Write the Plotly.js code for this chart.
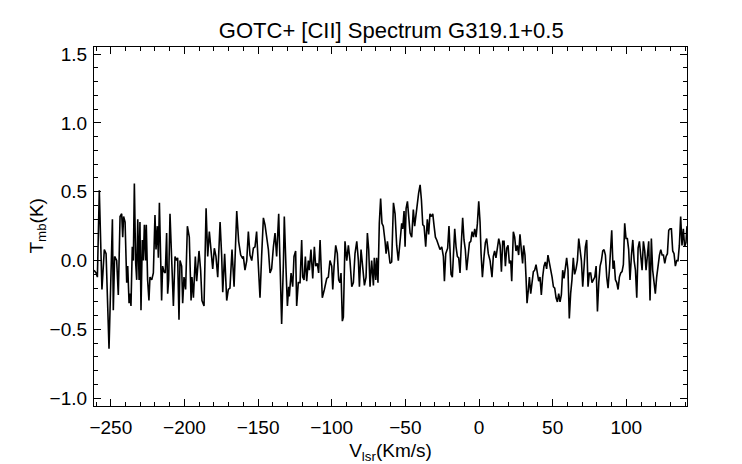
<!DOCTYPE html>
<html>
<head>
<meta charset="utf-8">
<script src="https://cdn.plot.ly/plotly-3.0.1.min.js"></script>
<style>
  html, body { margin: 0; padding: 0; background: #fff; }
  #myDiv { width: 742px; height: 464px; }
</style>
</head>
<body>
<div id="myDiv"></div>
<script>
// velocity channels (km/s)
const vel = [
    -261.4, -260.0, -259.1, -257.8, -256.0, -254.4, -253.2, -251.2, -248.9, -248.3,
    -247.4, -246.0, -244.9, -243.7, -242.6, -241.9, -241.3, -240.3, -239.2, -238.5,
    -237.6, -237.0, -236.3, -235.4, -234.7, -234.0, -233.1, -232.4, -231.7, -230.8,
    -230.2, -229.5, -228.6, -227.9, -227.2, -226.3, -225.9, -225.0, -224.1, -223.4,
    -222.2, -221.1, -220.0, -219.3, -218.4, -217.7, -217.0, -216.3, -215.5, -214.8,
    -213.9, -213.0, -212.1, -211.4, -210.7, -209.8, -208.7, -207.5, -206.4, -205.3,
    -204.6, -203.7, -203.0, -201.9, -201.2, -200.3, -199.2, -198.0, -196.7,
    -195.5, -194.9, -193.9, -192.6, -191.7, -190.1, -189.0, -188.1, -186.7, -185.3,
    -184.2, -183.1, -182.0, -180.8, -179.7, -178.6, -177.4, -175.8, -174.7, -174.0,
    -172.7, -171.3, -170.2, -169.1, -167.7, -166.3, -164.5, -163.2, -161.8, -160.7,
    -160.0, -158.9, -157.7, -156.6, -155.5, -154.3, -153.2, -152.1, -151.0, -150.0,
    -148.7, -147.6, -146.4, -145.3, -144.2, -143.0, -141.9, -140.8, -139.6, -138.5,
    -137.4, -136.0, -135.1, -134.0, -132.8, -132.2, -131.0, -130.1, -129.2,
    -128.8, -127.6, -126.5, -125.6, -124.5, -123.8, -122.7, -121.5, -120.4, -119.7,
    -118.8, -117.9, -117.0, -115.9, -115.2, -114.1, -112.9, -111.8, -110.9, -109.8,
    -108.9, -107.9, -106.4, -105.0, -103.4, -102.3, -101.2, -100.0, -99.3, -98.4,
    -97.3, -96.2, -95.3, -94.4, -93.7, -92.8, -92.1, -91.0, -89.8, -88.7,
    -87.6, -86.4, -85.3, -84.2, -83.0, -81.9, -81.2, -80.1, -79.0, -77.8,
    -76.7, -75.8, -74.9, -74.0, -72.9, -71.7, -71.1, -70.1, -69.5, -68.6,
    -67.7, -66.8, -65.9, -65.0, -63.8, -63.1, -62.2, -61.3,
    -60.4, -59.3, -58.1, -57.0, -55.9, -54.8, -53.6, -52.5, -51.8, -50.9,
    -50.2, -49.5, -48.6, -47.7, -46.8, -45.7, -44.6, -43.7, -42.8, -41.9,
    -41.0, -40.0, -39.1, -38.2, -37.3, -36.2, -35.1, -34.2, -33.3, -32.3,
    -31.4, -30.5, -29.6, -28.7, -27.6, -26.5, -25.3, -24.2, -23.5, -22.6,
    -21.3, -20.4, -19.7, -19.0, -18.1, -17.2, -16.5, -15.6, -14.7, -13.8,
    -12.9, -12.0, -11.1, -10.2, -9.3, -8.4, -7.5, -6.5, -5.6, -4.7,
    -3.8, -2.9, -2.0, -1.1, -0.2, 0.7, 1.4, 2.3, 3.4, 4.3,
    5.2, 6.3, 7.5,
    8.8, 9.7, 10.6, 11.5, 12.4, 13.4, 14.3, 15.2, 16.1, 17.0,
    17.9, 18.8, 19.7, 20.6, 21.5, 22.2, 23.3, 24.2, 25.1, 26.0,
    26.9, 27.8, 28.7, 29.6, 30.3, 31.2, 31.9, 32.6, 33.5, 34.2,
    35.1, 36.0, 36.9, 37.8, 38.7, 39.6, 40.5, 41.4, 42.3, 43.2,
    44.1, 45.0, 45.9, 46.8, 47.8, 48.7, 49.6, 50.5, 51.4, 52.3,
    53.2, 54.1, 55.0, 55.9, 56.8, 57.7, 58.6, 59.5, 60.4, 61.3,
    62.2, 63.1, 64.0, 64.9, 65.9, 66.8, 67.7, 68.6, 69.5, 70.4,
    71.3, 72.2, 73.1, 74.0, 74.9,
    75.8, 76.7, 77.6, 78.6, 79.5, 80.4, 81.3, 82.2, 83.1, 84.0,
    84.9, 85.8, 86.7, 87.6, 88.5, 89.4, 90.1, 91.0, 91.7, 92.6,
    93.5, 94.4, 95.3, 96.2, 97.1, 98.0, 98.9, 99.8, 100.7, 101.6,
    102.5, 103.5, 104.4, 105.3, 106.2, 107.1, 108.0, 108.9, 109.8, 110.7,
    111.6, 112.5, 113.4, 114.3, 115.2, 116.1, 117.0, 117.9, 118.8, 119.7,
    120.6, 121.6, 122.5, 123.4, 124.3, 125.2, 126.1, 127.0, 127.9, 128.8,
    129.7, 130.6, 131.5, 132.4, 133.3, 134.2, 135.1, 136.0, 136.9, 137.8,
    138.7, 139.6, 140.5, 141.2
];

// main-beam temperature (K)
const tmb = [
    -0.07, -0.09, -0.12, 0.51, -0.21, 0.08, 0.05, -0.64, 0.30, -0.36,
    0.03, 0.00, -0.25, 0.32, 0.34, 0.17, 0.32, 0.28, -0.16, -0.04,
    -0.31, -0.24, -0.33, 0.10, 0.00, 0.56, -0.02, -0.14, 0.30, -0.14,
    0.28, -0.36, 0.15, 0.00, 0.26, 0.00, 0.26, -0.14, -0.29, -0.12,
    -0.14, -0.09, 0.33, 0.08, 0.25, 0.02, 0.42, 0.03, -0.29, -0.04,
    -0.08, -0.09, 0.20, -0.24, -0.14, 0.34, -0.04, -0.33, 0.03, 0.00,
    0.02, -0.43, 0.00, -0.04, -0.31, -0.12, -0.21, 0.25, 0.17,
    -0.29, -0.12, -0.27, 0.03, -0.15, 0.07, -0.07, -0.29, -0.33, 0.38,
    0.03, 0.21, 0.08, -0.06, 0.09, 0.03, -0.12, 0.28, 0.03, -0.23,
    0.05, -0.29, -0.21, -0.20, 0.08, -0.19, 0.36, 0.14, 0.04, 0.02,
    0.03, -0.07, 0.00, 0.21, 0.04, 0.00, 0.09, 0.10, 0.21, 0.03,
    -0.27, 0.03, 0.31, 0.26, 0.15, 0.08, -0.09, -0.06, 0.10, 0.20,
    0.03, 0.34, -0.02, -0.46, -0.02, 0.32, -0.07, -0.33, -0.19,
    -0.26, -0.09, -0.19, 0.03, 0.07, -0.33, -0.16, -0.16, 0.15, -0.12,
    -0.14, 0.03, -0.15, 0.00, -0.07, 0.08, -0.13, 0.10, -0.04, -0.02,
    -0.09, 0.15, -0.27, -0.21, -0.13, -0.12, 0.00, -0.04, -0.21, -0.04,
    0.11, 0.05, -0.14, -0.16, -0.09, -0.44, -0.41, 0.14, 0.00, 0.11,
    0.00, -0.19, -0.16, 0.05, 0.14, 0.00, -0.19, 0.08, -0.07, -0.18,
    -0.12, 0.20, 0.08, -0.19, 0.00, -0.18, 0.02, -0.14, 0.02, -0.16,
    0.27, 0.45, 0.27, 0.25, 0.14, 0.05, 0.14, 0.05,
    -0.02, -0.01, 0.42, 0.34, 0.11, 0.00, 0.14, 0.27, 0.23, 0.36,
    0.10, 0.38, 0.43, 0.34, 0.20, 0.17, 0.37, 0.25, 0.34, 0.42,
    0.49, 0.55, 0.44, 0.26, 0.25, 0.10, 0.30, 0.19, 0.34, 0.32,
    0.34, 0.25, 0.17, 0.15, 0.11, 0.08, 0.10, 0.03, -0.15, 0.05,
    0.09, 0.25, 0.08, -0.10, -0.12, 0.05, 0.23, 0.10, 0.03, 0.02,
    -0.09, 0.13, 0.31, 0.15, 0.08, -0.07, 0.04, 0.13, 0.14, 0.21,
    0.17, 0.23, 0.17, 0.27, 0.43, 0.28, 0.05, -0.12, 0.03, 0.13,
    0.16, 0.05, 0.00,
    -0.12, 0.03, 0.07, 0.02, 0.11, 0.16, 0.11, -0.08, 0.14, 0.14,
    -0.04, 0.09, 0.11, -0.02, 0.00, -0.15, 0.21, 0.17, 0.07, 0.11,
    0.04, 0.19, 0.08, -0.02, 0.11, 0.04, -0.12, -0.31, -0.21, -0.12,
    -0.24, -0.13, -0.08, -0.07, -0.03, -0.09, -0.15, -0.12, -0.25, -0.12,
    -0.04, -0.01, -0.06, 0.04, -0.01, -0.07, -0.12, -0.19, -0.20, -0.27,
    -0.30, -0.24, -0.30, -0.25, -0.07, -0.13, -0.04, 0.02, -0.07, -0.42,
    -0.24, -0.14, 0.02, -0.10, -0.06, 0.00, 0.16, 0.07, 0.00, -0.19,
    0.00, 0.10, 0.15, -0.19, -0.09,
    -0.09, -0.16, -0.14, -0.12, -0.04, -0.37, -0.16, -0.04, 0.00, 0.07,
    0.08, 0.04, -0.12, -0.20, -0.07, 0.09, 0.22, -0.06, 0.00, -0.14,
    -0.16, -0.21, -0.12, -0.09, -0.08, -0.03, 0.27, 0.16, 0.16, 0.08,
    -0.14, 0.04, 0.15, 0.00, -0.07, -0.27, 0.09, 0.14, 0.04, -0.07,
    0.14, 0.07, -0.07, 0.07, 0.14, -0.29, 0.16, -0.07, -0.15, -0.24,
    -0.12, -0.03, 0.04, 0.08, 0.04, 0.04, -0.02, 0.03, 0.05, 0.22,
    0.23, 0.23, 0.07, 0.05, -0.04, 0.00, 0.00, 0.11, 0.32, 0.11,
    0.23, 0.10, 0.13, 0.25
];

const FONT = 'Liberation Sans, Arial, Helvetica, sans-serif';
const X_RANGE = [-261.4, 141.2];
const Y_RANGE = [-1.056, 1.551];

// tick-only axis laid over the main box, IDL style: ticks pointing inwards
function tickAxis(range, dtick, minorDtick, over, anchor, side) {
    return {
        range: range,
        overlaying: over,
        anchor: anchor,
        side: side,
        showline: false,
        showgrid: false,
        zeroline: false,
        showticklabels: false,
        ticks: 'inside',
        ticklen: 7,
        tickwidth: 1.2,
        tickcolor: '#000',
        dtick: dtick,
        tick0: 0,
        minor: {ticks: 'inside', ticklen: 4, tickwidth: 1.2, tickcolor: '#000', dtick: minorDtick}
    };
}

// the spectrum, plus transparent copies that only carry the tick axes
const data = [
    {x: vel, y: tmb, type: 'scatter', mode: 'lines', line: {color: '#000', width: 1.6}},
    {x: vel, y: tmb, xaxis: 'x2', yaxis: 'y2', type: 'scatter', mode: 'lines',
        line: {color: 'rgba(0,0,0,0)', width: 1}, hoverinfo: 'skip'},
    {x: vel, y: tmb, xaxis: 'x3', yaxis: 'y3', type: 'scatter', mode: 'lines',
        line: {color: 'rgba(0,0,0,0)', width: 1}, hoverinfo: 'skip'}
];

const layout = {
    width: 742,
    height: 464,
    margin: {l: 94, r: 55, t: 47, b: 58},
    paper_bgcolor: '#fff',
    plot_bgcolor: '#fff',
    showlegend: false,
    font: {family: FONT, color: '#000', size: 19},
    title: {
        text: 'GOTC+ [CII] Spectrum G319.1+0.5',
        font: {family: FONT, size: 22, color: '#000'},
        x: 0.5273,
        xanchor: 'center',
        y: 0.935,
        yanchor: 'middle'
    },
    // label axes: box lines and numbers, no ticks of their own
    xaxis: {
        range: X_RANGE,
        dtick: 50,
        tick0: 0,
        ticks: '',
        showgrid: false,
        zeroline: false,
        showline: true,
        linecolor: '#000',
        linewidth: 1.2,
        mirror: true,
        ticklabelstandoff: 4,
        tickfont: {family: FONT, size: 19, color: '#000'},
        title: {text: 'V<sub>lsr</sub>(Km/s)', font: {family: FONT, size: 19, color: '#000'}, standoff: 6}
    },
    yaxis: {
        range: Y_RANGE,
        dtick: 0.5,
        tick0: 0,
        tickformat: '.1f',
        ticks: '',
        showgrid: false,
        zeroline: false,
        showline: true,
        linecolor: '#000',
        linewidth: 1.2,
        mirror: true,
        ticklabelstandoff: 2,
        tickfont: {family: FONT, size: 19, color: '#000'}
    },
    xaxis2: tickAxis(X_RANGE, 50, 10, 'x', 'y', 'top'),
    yaxis2: tickAxis(Y_RANGE, 0.5, 0.1, 'y', 'x', 'right'),
    xaxis3: tickAxis(X_RANGE, 50, 10, 'x', 'y', 'bottom'),
    yaxis3: tickAxis(Y_RANGE, 0.5, 0.1, 'y', 'x', 'left'),
    annotations: [{
        text: 'T<sub>mb</sub>(K)',
        xref: 'paper', yref: 'paper',
        x: -0.0961, y: 0.5,
        xanchor: 'center', yanchor: 'middle',
        textangle: -90,
        showarrow: false,
        font: {family: FONT, size: 19, color: '#000'}
    }]
};

Plotly.newPlot('myDiv', data, layout, {displayModeBar: false});
</script>
</body>
</html>
